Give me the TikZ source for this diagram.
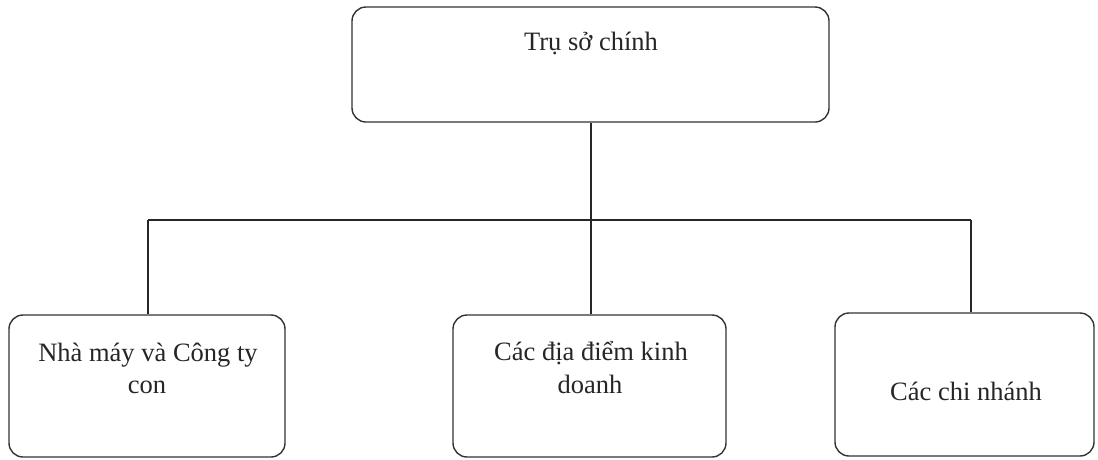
\documentclass[tikz,border=0pt]{standalone}
\usepackage{fontspec}
\setmainfont{Liberation Serif}
\begin{document}
\begin{tikzpicture}[x=1pt,y=-1pt,
  box/.style={draw=black!80, line width=1.4pt, rounded corners=14pt, inner sep=0pt, fill=white},
  conn/.style={draw=black!85, line width=1.1pt},
  lbl/.style={font=\fontsize{26.5}{32}\selectfont, text=black!85, anchor=base, inner sep=0pt}]
\useasboundingbox[fill=white] (0,0) rectangle (1098,459);
% boxes
\node[box, minimum width=477pt, minimum height=115pt] (hq) at (590.5,64.5) {};
\node[box, minimum width=276pt, minimum height=142pt] (left) at (147,386) {};
\node[box, minimum width=273pt, minimum height=142pt] (mid) at (589.5,386) {};
\node[box, minimum width=259pt, minimum height=143pt] (right) at (964.5,384.5) {};
% labels
\node[lbl] (hqt) at (591,50) {Trụ sở chính};
\node[lbl] (l1) at (148,361) {Nhà máy và Công ty};
\node[lbl] (l2) at (147,393) {con};
\node[lbl] (m1) at (591,360) {Các địa điểm kinh};
\node[lbl] (m2) at (590,393) {doanh};
\node[lbl] (r1) at (966,400) {Các chi nhánh};
% connectors
\coordinate (j) at (591,220);
\coordinate (jl) at (148,220);
\coordinate (jr) at (971,220);
\draw[conn] (j |- hq.south) -- (j);
\draw[conn] (jl) -- (jr);
\draw[conn] (jl) -- (jl |- left.north);
\draw[conn] (j) -- (j |- mid.north);
\draw[conn] (jr) -- (jr |- right.north);
\end{tikzpicture}
\end{document}
